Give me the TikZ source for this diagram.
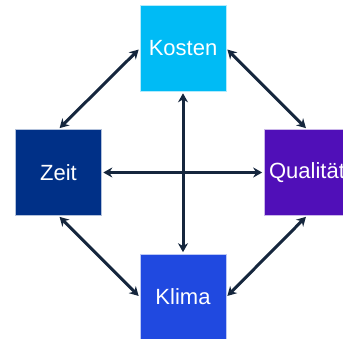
\documentclass[tikz,border=0pt]{standalone}
\usepackage{fontspec}
\setmainfont{Liberation Sans}
\usetikzlibrary{arrows.meta}
\definecolor{ckosten}{HTML}{00BBF5}
\definecolor{czeit}{HTML}{003087}
\definecolor{cqual}{HTML}{500FB8}
\definecolor{cklima}{HTML}{2049E0}
\definecolor{carrow}{HTML}{15263D}
\tikzset{
  box/.style={minimum width=86pt, minimum height=86pt, inner sep=0pt, draw=white!70!#1, line width=0.6pt, fill=#1, text=white, font=\fontsize{22}{25}\selectfont},
  link/.style={draw=carrow, line width=3pt, {Stealth[length=9pt,width=10pt]}-{Stealth[length=9pt,width=10pt]}, shorten <=1.5pt, shorten >=1.5pt}
}
\begin{document}
\begin{tikzpicture}[x=1pt,y=1pt]
\useasboundingbox (0,0) rectangle (343,338);
\node[box=ckosten] (kosten) at (183,289.5) {Kosten};
\node[box=czeit] (zeit) at (58.5,165.5) {Zeit};
\node[box=cqual] (qual) at (307,165.5) {Qualität};
\node[box=cklima] (klima) at (183,41) {Klima};
\draw[link] (kosten.west) -- (zeit.north);
\draw[link] (kosten.east) -- (qual.north);
\draw[link] (zeit.south) -- (klima.west);
\draw[link] (qual.south) -- (klima.east);
\draw[link] (kosten.south) -- (klima.north);
\draw[link] (zeit.east) -- (qual.west);
\end{tikzpicture}
\end{document}
